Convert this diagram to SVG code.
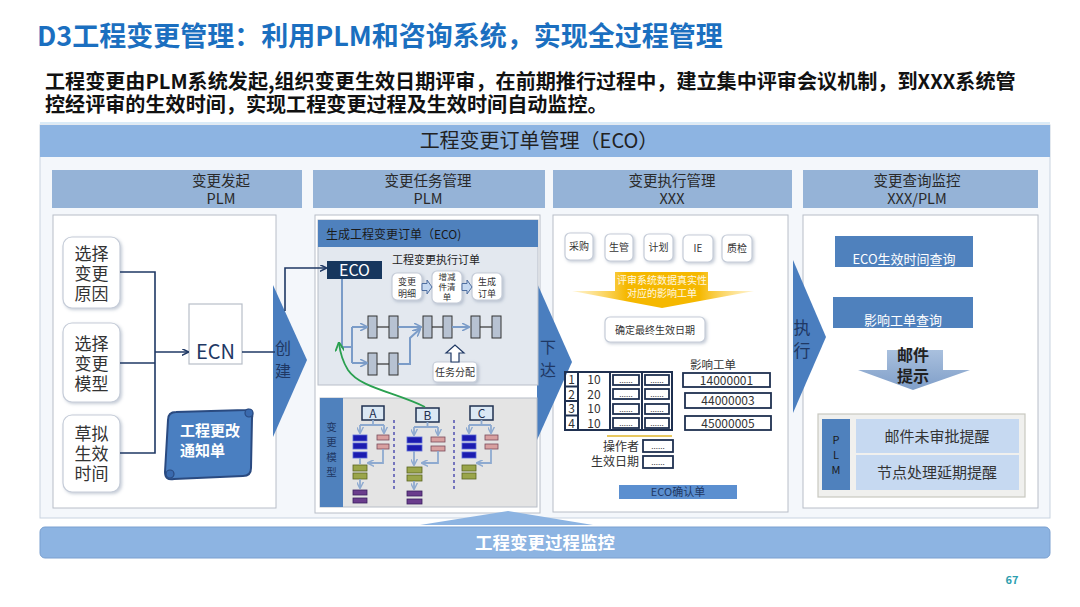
<svg xmlns="http://www.w3.org/2000/svg" width="1080" height="607" viewBox="0 0 1080 607">
<defs>
<style>
text{font-family:"Noto Sans CJK SC","Liberation Sans",sans-serif;}
.c{text-anchor:middle;}
.hdr{fill:#95b3d7;}
.colhdr{font-size:14.5px;fill:#2a2a2a;}
.panel{fill:#ffffff;stroke:#b8bec8;stroke-width:1;}
.rbox{fill:#ffffff;stroke:#c5ccd8;stroke-width:1.2;}
.line{fill:none;stroke:#1f3864;stroke-width:1.6;}
.flow{fill:none;stroke:#7b9cc8;stroke-width:2;}
.tree{fill:none;stroke:#8eaad0;stroke-width:1.8;}
.big{fill:#4a7ebf;}
.small{font-size:10px;fill:#333;}
.blu{fill:#1c1cb0;stroke:#5a6ad8;stroke-width:0.8;}
.pnk{fill:#d8a0a0;stroke:#7a4a5a;stroke-width:0.8;}
.olv{fill:#9aa54a;stroke:#5a6420;stroke-width:0.8;}
.pur{fill:#6a3c8c;stroke:#3a2060;stroke-width:0.8;}
.grid{fill:none;stroke:#1f3050;stroke-width:2;}
.navyb{fill:#fff;stroke:#1f3050;stroke-width:1.8;}
.num{font-size:12px;fill:#333;}
.dots{font-size:8px;fill:#333;}
</style>
<filter id="sh" x="-20%" y="-20%" width="140%" height="140%">
<feDropShadow dx="1.5" dy="1.5" stdDeviation="1.5" flood-color="#8090a8" flood-opacity="0.45"/>
</filter>
<marker id="ah" viewBox="0 0 10 10" refX="9" refY="5" markerWidth="7" markerHeight="7" orient="auto-start-reverse" markerUnits="userSpaceOnUse">
<path d="M0,0 L10,5 L0,10" fill="none" stroke="#1f3864" stroke-width="2"/>
</marker>
<marker id="af" viewBox="0 0 10 10" refX="9" refY="5" markerWidth="8" markerHeight="8" orient="auto" markerUnits="userSpaceOnUse">
<path d="M0,0 L10,5 L0,10" fill="none" stroke="#7b9cc8" stroke-width="2"/>
</marker>
<marker id="at" viewBox="0 0 10 10" refX="9" refY="5" markerWidth="7" markerHeight="7" orient="auto" markerUnits="userSpaceOnUse">
<path d="M0,0 L10,5 L0,10" fill="none" stroke="#8eaad0" stroke-width="2"/>
</marker>
<marker id="ag" viewBox="0 0 10 10" refX="9" refY="5" markerWidth="9" markerHeight="9" orient="auto" markerUnits="userSpaceOnUse">
<path d="M0,0 L10,5 L0,10" fill="none" stroke="#2aa050" stroke-width="2"/>
</marker>
<linearGradient id="yel" x1="0" y1="0" x2="1" y2="0">
<stop offset="0" stop-color="#ffd24a" stop-opacity="0.25"/>
<stop offset="0.3" stop-color="#f5b800"/>
<stop offset="0.7" stop-color="#f5b800"/>
<stop offset="1" stop-color="#ffd24a" stop-opacity="0.25"/>
</linearGradient>
<linearGradient id="mail" x1="0" y1="0" x2="0" y2="1">
<stop offset="0" stop-color="#a9c0de"/>
<stop offset="1" stop-color="#7f9ec8"/>
</linearGradient>
</defs>

<rect width="1080" height="607" fill="#ffffff"/>

<g id="title">
<text x="37" y="46" font-size="27" font-weight="bold" fill="#1b6fc0">D3工程变更管理：利用PLM和咨询系统，实现全过程管理</text>
</g>
<g id="subtitle">
<text x="45" y="89" font-size="20.1" font-weight="bold" fill="#111">工程变更由PLM系统发起,组织变更生效日期评审，在前期推行过程中，建立集中评审会议机制，到XXX系统管</text>
<text x="45" y="112" font-size="20.1" font-weight="bold" fill="#111">控经评审的生效时间，实现工程变更过程及生效时间自动监控。</text>
<line x1="40" y1="123" x2="1050" y2="123" stroke="#b7d7f0" stroke-width="1.2"/>
</g>

<g id="main-panel">
<rect x="40" y="125" width="1010" height="393" fill="#f4f7fb" stroke="#c9d3e0"/>
<rect x="40" y="125" width="1010" height="32" fill="#8db4e2"/>
<text x="539" y="148" class="c" font-size="20" fill="#222">工程变更订单管理（ECO）</text>
</g>

<g id="col-headers">
<rect x="52" y="170" width="250" height="38" class="hdr"/>
<text x="221" y="186" class="c colhdr">变更发起</text>
<text x="221" y="204" class="c colhdr">PLM</text>
<rect x="313" y="170" width="232" height="38" class="hdr"/>
<text x="428" y="186" class="c colhdr">变更任务管理</text>
<text x="428" y="204" class="c colhdr">PLM</text>
<rect x="553" y="170" width="239" height="38" class="hdr"/>
<text x="672" y="186" class="c colhdr">变更执行管理</text>
<text x="672" y="204" class="c colhdr">XXX</text>
<rect x="803" y="170" width="235" height="38" class="hdr"/>
<text x="917" y="186" class="c colhdr">变更查询监控</text>
<text x="917" y="204" class="c colhdr">XXX/PLM</text>
</g>

<g id="col1-panel"><rect x="53" y="215" width="223" height="293" class="panel"/></g>
<g id="col2-panel"><rect x="315" y="215" width="225" height="298" class="panel"/></g>
<g id="col3-panel"><rect x="553" y="215" width="235" height="297" class="panel"/></g>
<g id="col4-panel"><rect x="803" y="215" width="235" height="293" class="panel"/></g>

<g id="arrow-create">
<polygon points="273,285 307,360 273,437" class="big"/>
<text x="283" y="354" class="c" font-size="16" fill="#1f3864">创</text>
<text x="283" y="377" class="c" font-size="16" fill="#1f3864">建</text>
</g>
<g id="arrow-issue">
<polygon points="537,283 572,362 537,440" class="big"/>
<text x="548" y="353" class="c" font-size="16" fill="#1f3864">下</text>
<text x="548" y="376" class="c" font-size="16" fill="#1f3864">达</text>
</g>
<g id="arrow-exec">
<polygon points="793,260 826,337 793,413" class="big"/>
<text x="802" y="334" class="c" font-size="17" fill="#1f3864">执</text>
<text x="802" y="357" class="c" font-size="17" fill="#1f3864">行</text>
</g>

<g id="box-reason">
<rect x="63" y="237" width="57" height="71" rx="9" class="rbox" filter="url(#sh)"/>
<text x="91.5" y="260" class="c" font-size="17" fill="#333">选择</text>
<text x="91.5" y="280" class="c" font-size="17" fill="#333">变更</text>
<text x="91.5" y="300" class="c" font-size="17" fill="#333">原因</text>
</g>
<g id="box-model">
<rect x="63" y="323" width="57" height="79" rx="9" class="rbox" filter="url(#sh)"/>
<text x="91.5" y="350" class="c" font-size="17" fill="#333">选择</text>
<text x="91.5" y="370" class="c" font-size="17" fill="#333">变更</text>
<text x="91.5" y="390" class="c" font-size="17" fill="#333">模型</text>
</g>
<g id="box-time">
<rect x="63" y="415" width="57" height="77" rx="9" class="rbox" filter="url(#sh)"/>
<text x="91.5" y="440" class="c" font-size="17" fill="#333">草拟</text>
<text x="91.5" y="460" class="c" font-size="17" fill="#333">生效</text>
<text x="91.5" y="480" class="c" font-size="17" fill="#333">时间</text>
</g>
<g id="box-ecn">
<rect x="189" y="304" width="53" height="60" fill="#fff" stroke="#b8bec8" stroke-width="1.2"/>
<text x="215.5" y="359" class="c" font-size="20" fill="#1f3864">ECN</text>
</g>
<g id="scroll-notice">
<path d="M168,420 Q168,412 176,412 L246,410 Q254,408 252,418 L251,468 Q251,476 243,476 L174,479 Q165,481 165,472 Z" fill="#4a7fc1" stroke="#2a4a80" stroke-width="2"/>
<circle cx="249" cy="413" r="4" fill="#3a6aae" stroke="#2a4a80" stroke-width="1.2"/>
<circle cx="170" cy="474" r="4" fill="#3a6aae" stroke="#2a4a80" stroke-width="1.2"/>
<text x="180" y="436" font-size="15" font-weight="bold" fill="#ffffff">工程更改</text>
<text x="180" y="456" font-size="15" font-weight="bold" fill="#ffffff">通知单</text>
</g>

<g id="eco-panel">
<rect x="318" y="220" width="220" height="165" fill="#e3e8ef" stroke="#b8bec8"/>
<rect x="318" y="220" width="220" height="27" fill="#4f81bd"/>
<text x="326" y="239" font-size="12" fill="#1a1a1a">生成工程变更订单（ECO)</text>
</g>
<g id="eco-box">
<rect x="327" y="261" width="55" height="18" fill="#17375e"/>
<text x="354.5" y="276" class="c" font-size="16" fill="#fff">ECO</text>
</g>
<g id="eco-exec">
<text x="392" y="264" font-size="11" fill="#222">工程变更执行订单</text>
<rect x="392" y="273" width="30" height="27" rx="5" class="rbox" filter="url(#sh)"/>
<text x="407" y="285" class="c" font-size="9" fill="#333">变更</text>
<text x="407" y="296.5" class="c" font-size="9" fill="#333">明细</text>
<rect x="432" y="271" width="30" height="32" rx="5" class="rbox" filter="url(#sh)"/>
<text x="447" y="280" class="c" font-size="8.5" fill="#333">增减</text>
<text x="447" y="290" class="c" font-size="8.5" fill="#333">件清</text>
<text x="447" y="300" class="c" font-size="8.5" fill="#333">单</text>
<rect x="472" y="273" width="30" height="27" rx="5" class="rbox" filter="url(#sh)"/>
<text x="487" y="285" class="c" font-size="9" fill="#333">生成</text>
<text x="487" y="296.5" class="c" font-size="9" fill="#333">订单</text>
<path d="M422,283.5 H427 V280 L432,287 L427,294 V290.5 H422 Z" fill="#c6d9f1" stroke="#4f6fa0" stroke-width="1"/>
<path d="M462,283.5 H467 V280 L472,287 L467,294 V290.5 H462 Z" fill="#c6d9f1" stroke="#4f6fa0" stroke-width="1"/>
</g>
<g id="task-chain">
<rect x="368" y="316" width="9" height="22" fill="#b7c2d2" stroke="#333" stroke-width="1"/>
<rect x="389" y="316" width="9" height="22" fill="#b7c2d2" stroke="#333" stroke-width="1"/>
<rect x="423" y="316" width="9" height="22" fill="#b7c2d2" stroke="#333" stroke-width="1"/>
<rect x="443" y="316" width="9" height="22" fill="#b7c2d2" stroke="#333" stroke-width="1"/>
<rect x="471" y="316" width="9" height="22" fill="#b7c2d2" stroke="#333" stroke-width="1"/>
<rect x="492" y="316" width="9" height="22" fill="#b7c2d2" stroke="#333" stroke-width="1"/>
<rect x="368" y="353" width="9" height="22" fill="#b7c2d2" stroke="#333" stroke-width="1"/>
<rect x="389" y="353" width="9" height="22" fill="#b7c2d2" stroke="#333" stroke-width="1"/>
<line x1="377" y1="327" x2="389" y2="327" stroke="#333" stroke-width="1.2"/>
<line x1="432" y1="327" x2="443" y2="327" stroke="#333" stroke-width="1.2"/>
<line x1="480" y1="327" x2="492" y2="327" stroke="#333" stroke-width="1.2"/>
<line x1="377" y1="364" x2="389" y2="364" stroke="#333" stroke-width="1.2"/>
</g>
<g id="task-assign">
<rect x="433" y="362" width="44" height="20" rx="4" class="rbox" filter="url(#sh)"/>
<text x="455" y="376" class="c" font-size="10" fill="#333">任务分配</text>
<path d="M451,362 V353 H446 L455,345 L464,353 H459 V362 Z" fill="#ffffff" stroke="#1f3864" stroke-width="1.2"/>
</g>

<g id="model-panel">
<rect x="320" y="398" width="217" height="109" fill="#e4e4e4" stroke="#b8bec8"/>
<rect x="320" y="398" width="23" height="109" fill="#4f81bd"/>
<text x="331.5" y="431" class="c" font-size="10.5" fill="#1f3864">变</text>
<text x="331.5" y="446" class="c" font-size="10.5" fill="#1f3864">更</text>
<text x="331.5" y="461" class="c" font-size="10.5" fill="#1f3864">模</text>
<text x="331.5" y="476" class="c" font-size="10.5" fill="#1f3864">型</text>
<line x1="394" y1="420" x2="394" y2="490" stroke="#5050b0" stroke-width="1.5" stroke-dasharray="3,3"/>
<line x1="454" y1="420" x2="454" y2="490" stroke="#5050b0" stroke-width="1.5" stroke-dasharray="3,3"/>
</g>
<g id="model-a">
<rect x="362" y="406" width="22" height="14" fill="#dbe8f4" stroke="#1f3050" stroke-width="1.5"/>
<text x="373" y="418" class="c" font-size="12" fill="#1f3050">A</text>
<path d="M373,420 V425 M360,425 H384" class="tree"/>
<path d="M360,425 V433" class="tree" marker-end="url(#at)"/>
<path d="M384,425 V433" class="tree" marker-end="url(#at)"/>
<rect x="353" y="435" width="14" height="6" class="blu"/>
<rect x="353" y="443" width="14" height="6" class="blu"/>
<rect x="353" y="452" width="14" height="6" class="blu"/>
<rect x="377" y="435" width="12" height="5" class="pnk"/>
<rect x="377" y="444" width="12" height="5" class="pnk"/>
<path d="M383,449 V463 H368" class="tree" marker-end="url(#at)"/>
<path d="M360,458 V464" class="tree"/>
<rect x="353" y="465" width="14" height="6" class="olv"/>
<rect x="353" y="473" width="14" height="6" class="olv"/>
<path d="M360,479 V488" class="tree" marker-end="url(#at)"/>
<rect x="353" y="490" width="14" height="5" class="pur"/>
<rect x="353" y="498" width="14" height="5" class="pur"/>
</g>
<g id="model-b">
<rect x="416" y="408" width="23" height="14" fill="#dbe8f4" stroke="#1f3050" stroke-width="1.5"/>
<text x="427.5" y="420" class="c" font-size="12" fill="#1f3050">B</text>
<path d="M427.5,422 V427 M414,427 H438" class="tree"/>
<path d="M414,427 V435" class="tree" marker-end="url(#at)"/>
<path d="M438,427 V435" class="tree" marker-end="url(#at)"/>
<rect x="407" y="437" width="15" height="6" class="blu"/>
<rect x="407" y="445" width="15" height="6" class="blu"/>
<rect x="431" y="437" width="14" height="5" class="pnk"/>
<rect x="431" y="446" width="14" height="5" class="pnk"/>
<path d="M438,451 V463 H422" class="tree" marker-end="url(#at)"/>
<path d="M414,451 V465" class="tree" marker-end="url(#at)"/>
<rect x="407" y="467" width="15" height="6" class="olv"/>
<rect x="407" y="475" width="15" height="6" class="olv"/>
<path d="M414,481 V489" class="tree" marker-end="url(#at)"/>
<rect x="407" y="491" width="15" height="5" class="pur"/>
<rect x="407" y="499" width="15" height="5" class="pur"/>
</g>
<g id="model-c">
<rect x="470" y="406" width="23" height="14" fill="#dbe8f4" stroke="#1f3050" stroke-width="1.5"/>
<text x="481.5" y="418" class="c" font-size="12" fill="#1f3050">C</text>
<path d="M481.5,420 V425 M469,425 H491" class="tree"/>
<path d="M469,425 V433" class="tree" marker-end="url(#at)"/>
<path d="M491,425 V433" class="tree" marker-end="url(#at)"/>
<rect x="462" y="435" width="14" height="6" class="blu"/>
<rect x="462" y="443" width="14" height="6" class="blu"/>
<rect x="462" y="452" width="14" height="6" class="blu"/>
<rect x="485" y="435" width="13" height="5" class="pnk"/>
<rect x="485" y="444" width="13" height="5" class="pnk"/>
<path d="M491,449 V463 H477" class="tree" marker-end="url(#at)"/>
<rect x="462" y="465" width="14" height="6" class="olv"/>
<rect x="462" y="473" width="14" height="6" class="olv"/>
</g>

<g id="dept-boxes">
<rect x="565" y="233" width="28" height="27" rx="5" class="rbox" filter="url(#sh)"/>
<text x="579" y="250" class="c small">采购</text>
<rect x="605" y="234" width="28" height="27" rx="5" class="rbox" filter="url(#sh)"/>
<text x="619" y="251" class="c small">生管</text>
<rect x="644" y="234" width="29" height="27" rx="5" class="rbox" filter="url(#sh)"/>
<text x="658.5" y="251" class="c small">计划</text>
<rect x="683" y="235" width="30" height="27" rx="5" class="rbox" filter="url(#sh)"/>
<text x="698" y="252" class="c small">IE</text>
<rect x="722" y="235" width="30" height="27" rx="5" class="rbox" filter="url(#sh)"/>
<text x="737" y="252" class="c small">质检</text>
</g>
<g id="review-arrow">
<path d="M615,272 H708 V291 H754 L662,308 L572,291 H615 Z" fill="url(#yel)"/>
<text x="662" y="284" class="c" font-size="10" fill="#fff8e0">评审系统数据真实性</text>
<text x="662" y="297" class="c" font-size="10" fill="#fff8e0">对应的影响工单</text>
</g>
<g id="confirm-date">
<rect x="605" y="317" width="100" height="25" rx="5" class="rbox" filter="url(#sh)"/>
<text x="655" y="333.5" class="c small">确定最终生效日期</text>
</g>
<g id="eco-table">
<rect x="565" y="372" width="107" height="58" class="grid"/>
<line x1="578" y1="372" x2="578" y2="430" class="grid"/>
<line x1="610" y1="372" x2="610" y2="430" class="grid"/>
<line x1="642" y1="372" x2="642" y2="430" class="grid"/>
<line x1="565" y1="386.5" x2="578" y2="386.5" class="grid"/>
<line x1="565" y1="401" x2="578" y2="401" class="grid"/>
<line x1="565" y1="415.5" x2="578" y2="415.5" class="grid"/>
<rect x="613" y="375" width="26" height="10" class="navyb"/>
<rect x="645" y="375" width="24" height="10" class="navyb"/>
<rect x="613" y="389" width="26" height="10" class="navyb"/>
<rect x="645" y="389" width="24" height="10" class="navyb"/>
<rect x="613" y="404" width="26" height="10" class="navyb"/>
<rect x="645" y="404" width="24" height="10" class="navyb"/>
<rect x="613" y="418" width="26" height="10" class="navyb"/>
<rect x="645" y="418" width="24" height="10" class="navyb"/>
<text x="571.5" y="384" class="c num">1</text>
<text x="571.5" y="398.5" class="c num">2</text>
<text x="571.5" y="413" class="c num">3</text>
<text x="571.5" y="427.5" class="c num">4</text>
<text x="594" y="384" class="c num">10</text>
<text x="594" y="398.5" class="c num">20</text>
<text x="594" y="413" class="c num">10</text>
<text x="594" y="427.5" class="c num">10</text>
<text x="626" y="383" class="c dots">......</text>
<text x="657" y="383" class="c dots">......</text>
<text x="626" y="397" class="c dots">......</text>
<text x="657" y="397" class="c dots">......</text>
<text x="626" y="412" class="c dots">......</text>
<text x="657" y="412" class="c dots">......</text>
<text x="626" y="426" class="c dots">......</text>
<text x="657" y="426" class="c dots">......</text>
<line x1="607" y1="436" x2="672" y2="436" stroke="#e8c860" stroke-width="2"/>
</g>
<g id="affected-orders">
<text x="713" y="369" class="c" font-size="11.5" fill="#333">影响工单</text>
<rect x="683" y="373" width="87" height="14" fill="#fff" stroke="#1f3050" stroke-width="1.8"/>
<text x="726.5" y="384.5" class="c" font-size="12" fill="#333">14000001</text>
<rect x="685" y="393" width="86" height="15" fill="#fff" stroke="#1f3050" stroke-width="1.8"/>
<text x="728" y="405" class="c" font-size="12" fill="#333">44000003</text>
<rect x="685" y="416" width="86" height="14" fill="#fff" stroke="#1f3050" stroke-width="1.8"/>
<text x="728" y="427.5" class="c" font-size="12" fill="#333">45000005</text>
</g>
<g id="operator">
<text x="639" y="451" text-anchor="end" font-size="12" fill="#333">操作者</text>
<rect x="643" y="440" width="30" height="12" class="navyb"/>
<text x="658" y="449" class="c dots">......</text>
<text x="639" y="466" text-anchor="end" font-size="12" fill="#333">生效日期</text>
<rect x="643" y="456" width="30" height="12" class="navyb"/>
<text x="658" y="465" class="c dots">......</text>
</g>
<g id="eco-confirm">
<rect x="619" y="485" width="118" height="14" fill="#5b8fd0"/>
<text x="678" y="496" class="c" font-size="11" fill="#1f3864">ECO确认单</text>
</g>

<g id="query-eco">
<rect x="835" y="236" width="138" height="31" fill="#4f81bd"/>
<text x="904" y="264" class="c" font-size="13" fill="#fff">ECO生效时间查询</text>
</g>
<g id="query-orders">
<rect x="833" y="297" width="140" height="31" fill="#4f81bd"/>
<text x="903" y="325" class="c" font-size="13" fill="#fff">影响工单查询</text>
</g>
<g id="mail-arrow">
<path d="M887,350 H943 V370 H970 L913,390 L858,370 H887 Z" fill="url(#mail)"/>
<text x="913" y="361" class="c" font-size="16" font-weight="bold" fill="#222">邮件</text>
<text x="913" y="382" class="c" font-size="16" font-weight="bold" fill="#222">提示</text>
</g>
<g id="plm-reminders">
<rect x="818" y="414" width="207" height="83" fill="#f0f0ee" stroke="#c8c8c0" stroke-width="1.2"/>
<rect x="822" y="419" width="28" height="71" fill="#4f81bd"/>
<text x="836" y="444" class="c" font-size="11" fill="#1a1a1a">P</text>
<text x="836" y="459" class="c" font-size="11" fill="#1a1a1a">L</text>
<text x="836" y="474" class="c" font-size="11" fill="#1a1a1a">M</text>
<rect x="856" y="419" width="163" height="34" fill="#c6d9f1"/>
<text x="937" y="442" class="c" font-size="15" fill="#333">邮件未审批提醒</text>
<rect x="856" y="455" width="163" height="35" fill="#c6d9f1"/>
<text x="937" y="478" class="c" font-size="15" fill="#333">节点处理延期提醒</text>
</g>

<g id="monitor">
<polygon points="420,525 508,511 593,525" fill="#8db4e2"/>
<rect x="40" y="527" width="1010" height="31" rx="5" fill="#8db4e2" stroke="#7aa0d0" stroke-width="1"/>
<text x="545" y="549" class="c" font-size="17.5" font-weight="bold" fill="#ffffff">工程变更过程监控</text>
</g>
<g id="page-number">
<text x="1012" y="584" class="c" font-size="11" font-weight="bold" fill="#2e9fb0">67</text>
</g>

<g id="connectors">
<path d="M120,272 H155 V453 H120" class="line"/>
<path d="M120,363 H155" class="line"/>
<path d="M155,352 H188" class="line" marker-end="url(#ah)"/>
<path d="M242,352 H275" class="line"/>
<path d="M285,311 V268 H326" class="line" marker-end="url(#ah)"/>
<path d="M342,279 V347 H352" class="flow"/>
<path d="M352,327 V363" class="flow"/>
<path d="M352,327 H367" class="flow" marker-end="url(#af)"/>
<path d="M352,363 H367" class="flow" marker-end="url(#af)"/>
<path d="M398,327 H421" class="flow" marker-end="url(#af)"/>
<path d="M452,327 H469" class="flow" marker-end="url(#af)"/>
<path d="M398,364 H410 V338 L420,329" class="flow" marker-end="url(#af)"/>
<path d="M425,407 C395,392 360,388 348,370 C343,362 340,352 339,343" fill="none" stroke="#2aa050" stroke-width="1.8" marker-end="url(#ag)"/>
</g>
</svg>
